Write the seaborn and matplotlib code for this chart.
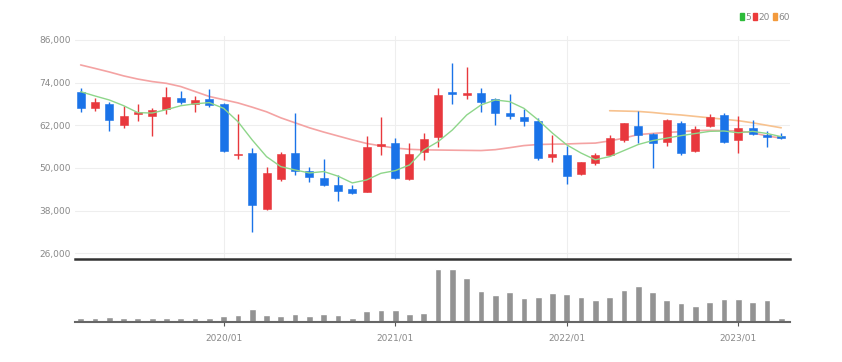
import numpy as np
import pandas as pd
import matplotlib
matplotlib.use("Agg")
import matplotlib.pyplot as plt
import seaborn as sns
from matplotlib import font_manager
from matplotlib.patches import Patch

# monthly candles 2019/03 .. 2023/04
months = pd.period_range("2019-03", "2023-04", freq="M").strftime("%Y/%m").tolist()

opens = [71281, 66781, 67906, 62094, 65094, 64531, 66594, 69781, 67906, 69406,
         67906, 53656, 54125, 38469, 46813, 54219, 49250, 47188, 45125, 44188,
         43344, 56281, 56938, 46813, 54594, 58625, 71281, 70531, 71000, 69406,
         65375, 64250, 63313, 53188, 53656, 48313, 51313, 53656, 57875, 61906,
         59656, 57313, 62750, 54781, 61813, 64813, 57781, 61156, 59281, 59094]
highs = [72594, 69781, 68656, 67531, 67906, 66781, 72781, 71656, 70156, 72125,
         68200, 65094, 55719, 50375, 54500, 65563, 50188, 52438, 47906, 45125,
         59000, 64344, 58344, 56938, 59938, 72594, 79438, 78500, 72406, 69781,
         70813, 66594, 64000, 59281, 56281, 51800, 54300, 59281, 62750, 65938,
         59900, 63700, 63200, 61800, 65100, 65563, 64625, 63500, 60406, 59750]
lows = [65844, 66031, 60406, 61344, 63219, 59094, 65281, 67906, 65844, 67063,
        54600, 52531, 32094, 38200, 46250, 47906, 45969, 44900, 40813, 42594,
        43300, 53656, 46900, 46500, 52250, 56000, 67906, 69406, 65844, 62094,
        63688, 61906, 52250, 51781, 45500, 48000, 50800, 53400, 57300, 56938,
        49906, 56188, 53560, 54600, 61500, 57125, 54094, 59281, 55875, 58156]
closes = [66781, 68469, 63406, 64719, 65656, 66219, 69969, 68469, 69219, 67719,
          54781, 54031, 39594, 48500, 53938, 49250, 47469, 45219, 43625, 42969,
          55813, 56750, 47094, 53938, 58063, 70531, 70719, 71000, 68656, 65375,
          64625, 63313, 52906, 53844, 47844, 51594, 53656, 58344, 62563, 59281,
          57125, 63406, 54219, 60875, 64438, 57313, 61156, 59656, 58719, 58344]

ma5 = [71460, 70250, 69125, 67531, 65563, 65450, 66400, 67500, 68050, 68380,
       66780, 63030, 57875, 53190, 50375, 49440, 48600, 49000, 47700, 45800,
       46630, 48500, 49250, 50850, 55060, 57400, 60690, 64900, 67720, 69125,
       68660, 66780, 63500, 59800, 56500, 54200, 52300, 53200, 54900, 56600,
       57700, 58400, 59100, 59700, 60300, 60400, 59900, 60300, 59700, 58800]
ma20 = [78970, 78000, 77000, 75900, 75000, 74300, 73800, 72900, 71500, 70100,
        69200, 68300, 67100, 65800, 64100, 62700, 61300, 60100, 59000, 57900,
        56900, 56200, 55600, 55250, 55100, 55050, 55000, 54950, 54900, 55150,
        55700, 56300, 56600, 56700, 56750, 56900, 57000, 57600, 58400, 59400,
        59700, 60000, 60200, 60500, 60600, 60500, 60400, 59900, 59000, 58400]
ma60 = [np.nan] * 37 + [66100, 66000, 65900, 65600, 65200, 64900, 64500,
                        64100, 63700, 63300, 62700, 62000, 61300]

volumes = [12, 12, 16, 13, 12, 13, 12, 12, 11, 13,
           17, 22, 40, 22, 17, 25, 17, 25, 22, 13,
           32, 37, 37, 25, 27, 160, 158, 132, 92, 80,
           90, 72, 75, 87, 85, 75, 67, 75, 97, 107,
           90, 65, 57, 47, 60, 70, 70, 60, 65, 12]

price_ticks = [26000, 38000, 50000, 62000, 74000, 86000]
year_ticks = ["2020/01", "2021/01", "2022/01", "2023/01"]

UP = "#e8383d"
DOWN = "#1a73e8"
MA_COLORS = {"5": "#8ed68a", "20": "#f4a3a3", "60": "#f7c28f"}
LEGEND_COLORS = {"5": "#2dbb3a", "20": "#ec3b3b", "60": "#f39a3c"}

sns.set_theme(style="white")
names = {f.name for f in font_manager.fontManager.ttflist}
narrow = "Liberation Sans Narrow" if "Liberation Sans Narrow" in names else "DejaVu Sans"
plt.rcParams["font.family"] = [narrow, "DejaVu Sans"]

df = pd.DataFrame({"month": months, "open": opens, "high": highs, "low": lows,
                   "close": closes, "ma5": ma5, "ma20": ma20, "ma60": ma60,
                   "volume": volumes})
df["x"] = np.arange(len(df))
df["up"] = df["close"] >= df["open"]
df["color"] = np.where(df["up"], UP, DOWN)

fig = plt.figure(figsize=(8.42, 3.62), dpi=100)
ax = fig.add_axes([0.089, 0.2837, 0.849, 0.617])
axv = fig.add_axes([0.089, 0.1105, 0.849, 0.1657], sharex=ax)

xt = [months.index(t) for t in year_ticks]

# price panel
for t in price_ticks:
    ax.axhline(t, color="#eeeeee", lw=0.8, zorder=0)
for p in xt:
    ax.axvline(p, color="#eeeeee", lw=0.8, zorder=0)

ax.vlines(df["x"], df["low"], df["high"], colors=df["color"], lw=1.0, zorder=2)
body_lo = df[["open", "close"]].min(axis=1)
body_h = (df["close"] - df["open"]).abs().clip(lower=250)
ax.bar(df["x"], body_h, bottom=body_lo, width=0.56, color=df["color"],
       edgecolor=df["color"], linewidth=0.4, zorder=3)

sns.lineplot(data=df, x="x", y="ma5", ax=ax, color=MA_COLORS["5"], lw=1.0, zorder=4)
sns.lineplot(data=df, x="x", y="ma20", ax=ax, color=MA_COLORS["20"], lw=1.2, zorder=1)
sns.lineplot(data=df, x="x", y="ma60", ax=ax, color=MA_COLORS["60"], lw=1.2, zorder=1)

ax.set_xlim(-0.4, 49.6)
ax.set_ylim(24322, 87125)
ax.set_yticks(price_ticks)
ax.set_yticklabels([f"{t:,}" for t in price_ticks])
ax.tick_params(axis="y", length=0, pad=3, labelsize=6.5, labelcolor="#888888")
ax.tick_params(axis="x", length=0, labelbottom=False)
ax.set_xlabel("")
ax.set_ylabel("")
for s in ["top", "right", "left"]:
    ax.spines[s].set_visible(False)
ax.spines["bottom"].set_color("#333333")
ax.spines["bottom"].set_linewidth(1.8)

# volume panel
axv.bar(df["x"], df["volume"], width=0.47, color="#939393", zorder=2)
axv.set_ylim(0, 180)
axv.set_yticks([])
axv.set_xticks(xt)
axv.set_xticklabels(year_ticks)
axv.tick_params(axis="x", length=3, width=0.8, color="#555555", pad=5,
                labelsize=6.5, labelcolor="#888888", bottom=True)
for s in ["top", "right", "left"]:
    axv.spines[s].set_visible(False)
axv.spines["bottom"].set_color("#666666")
axv.spines["bottom"].set_linewidth(1.5)
axv.set_xlabel("")
axv.set_ylabel("")

handles = [Patch(color=c, label=k) for k, c in LEGEND_COLORS.items()]
fig.legend(handles=handles, loc="upper right", bbox_to_anchor=(0.938, 0.965),
           ncol=3, frameon=False, fontsize=6.5, handlelength=0.45,
           handleheight=0.9, handletextpad=0.15, columnspacing=0.3,
           borderpad=0, borderaxespad=0, labelcolor="#888888")

fig.savefig("out.png", dpi=100)
plt.close(fig)
